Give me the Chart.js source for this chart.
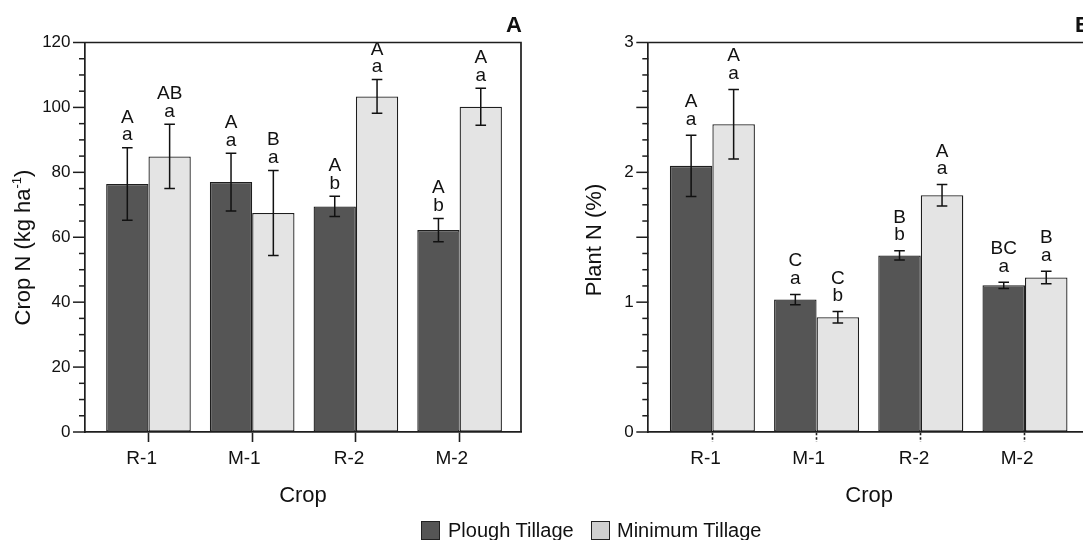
<!DOCTYPE html>
<html><head><meta charset="utf-8">
<script src="https://cdn.jsdelivr.net/npm/chart.js@4.4.1/dist/chart.umd.min.js"></script>
<style>
html,body{margin:0;padding:0;background:#fff;width:1083px;height:540px;overflow:hidden;position:relative;font-family:'Liberation Sans',Arial,sans-serif;}
canvas{position:absolute;top:0;}
#cA{left:0;} #cB{left:540px;}
.lg{position:absolute;top:520.5px;height:19px;width:19px;box-sizing:border-box;border:1.5px solid #222;}
.lt{position:absolute;top:520px;font-size:20px;line-height:20px;color:#111;white-space:nowrap;}
</style></head><body>
<canvas id="cA" width="540" height="540"></canvas>
<canvas id="cB" width="560" height="540"></canvas>
<div id="legend"></div>
<script>
// ---------- data ----------
const crops = ['R-1', 'M-1', 'R-2', 'M-2'];
const seriesNames = ['Plough Tillage', 'Minimum Tillage'];

const cropN_plough     = [76.4, 77.0, 69.5, 62.2];
const cropN_plough_err = [11.2, 8.9, 3.1, 3.6];
const cropN_min        = [84.9, 67.5, 103.4, 100.2];
const cropN_min_err    = [9.9, 13.1, 5.2, 5.7];
const cropN_plough_letters = [['A','a'], ['A','a'], ['A','b'], ['A','b']];
const cropN_min_letters    = [['AB','a'], ['B','a'], ['A','a'], ['A','a']];
const cropN_tickLabels = [0, 20, 40, 60, 80, 100, 120];

const plantN_plough     = [2.05, 1.02, 1.36, 1.13];
const plantN_plough_err = [0.236, 0.040, 0.036, 0.024];
const plantN_min        = [2.37, 0.884, 1.823, 1.19];
const plantN_min_err    = [0.268, 0.044, 0.083, 0.048];
const plantN_plough_letters = [['A','a'], ['C','a'], ['B','b'], ['BC','a']];
const plantN_min_letters    = [['A','a'], ['C','b'], ['A','a'], ['B','a']];
const plantN_tickLabels = [0, 1, 2, 3];

const xTitle = 'Crop';
const yTitleA = [['Crop N (kg ha', 0], ['-1', 1], [')', 0]];
const yTitleB = [['Plant N (%)', 0]];
const panelA = 'A', panelB = 'B';

// ---------- styling ----------
const FONT = "'Liberation Sans', Arial, sans-serif";
Chart.defaults.font.family = FONT;
const INK = '#1e1e1e';
const fills = ['#555555', '#e4e4e4'];
const legendFills = ['#555555', '#d0d0d0'];

// legend (HTML text)
(function(){
  const lg = document.getElementById('legend');
  const boxL = [420.5, 590.5], txtL = [448, 617];
  seriesNames.forEach((n, i) => {
    const b = document.createElement('div'); b.className = 'lg';
    b.style.left = boxL[i] + 'px'; b.style.background = legendFills[i];
    const t = document.createElement('div'); t.className = 'lt';
    t.style.left = txtL[i] + 'px'; t.textContent = n;
    lg.appendChild(b); lg.appendChild(t);
  });
})();

const decorPlugin = {
  id: 'decor',
  afterDraw(chart) {
    const o = chart.options.plugins.decor;
    const {ctx, chartArea: a} = chart;
    const ys = chart.scales.y;
    ctx.save();
    // frame top & right
    ctx.strokeStyle = INK; ctx.lineWidth = 1.7;
    ctx.beginPath(); ctx.moveTo(a.left, a.top); ctx.lineTo(a.right, a.top); ctx.lineTo(a.right, a.bottom); ctx.stroke();
    // y ticks (major / minor)
    ctx.lineWidth = 1.5;
    ys.ticks.forEach(t => {
      const y = ys.getPixelForValue(t.value);
      const r = t.value / o.longStep;
      const len = Math.abs(r - Math.round(r)) < 1e-9 ? 12 : 6;
      ctx.beginPath(); ctx.moveTo(a.left - len, y); ctx.lineTo(a.left, y); ctx.stroke();
    });
    // panel letter
    ctx.fillStyle = '#111';
    ctx.font = 'bold 22px ' + FONT; ctx.textAlign = 'right'; ctx.textBaseline = 'alphabetic';
    ctx.fillText(o.panel, a.right + 1, 32);
    // y title (rotated, with superscript support)
    ctx.translate(o.titleX, o.titleY); ctx.rotate(-Math.PI / 2);
    const parts = o.yTitle.map(([t, sup]) => {
      ctx.font = (sup ? 13 : 22) + 'px ' + FONT;
      return {t, sup, w: ctx.measureText(t).width};
    });
    const W = parts.reduce((s, p) => s + p.w, 0);
    let x = -W / 2;
    ctx.textAlign = 'left';
    parts.forEach(p => {
      ctx.font = (p.sup ? 13 : 22) + 'px ' + FONT;
      ctx.fillText(p.t, x, p.sup ? -9 : 0);
      x += p.w;
    });
    ctx.restore();
  }
};

const errPlugin = {
  id: 'errbars',
  afterDatasetsDraw(chart) {
    const o = chart.options.plugins.errbars;
    const ctx = chart.ctx, ys = chart.scales.y;
    chart.data.datasets.forEach((ds, di) => {
      const meta = chart.getDatasetMeta(di);
      meta.data.forEach((bar, i) => {
        const v = ds.data[i].y, e = ds.errs[i];
        const yT = ys.getPixelForValue(v + e), yB = ys.getPixelForValue(v - e);
        ctx.save();
        ctx.strokeStyle = '#111'; ctx.lineWidth = 1.5;
        ctx.beginPath();
        ctx.moveTo(bar.x, yT); ctx.lineTo(bar.x, yB);
        ctx.moveTo(bar.x - 5.3, yT); ctx.lineTo(bar.x + 5.3, yT);
        ctx.moveTo(bar.x - 5.3, yB); ctx.lineTo(bar.x + 5.3, yB);
        ctx.stroke();
        ctx.fillStyle = '#111'; ctx.font = '19px ' + FONT;
        ctx.textAlign = 'center'; ctx.textBaseline = 'alphabetic';
        const lines = ds.letters[i];
        let base = yT - o.gap;
        for (let k = lines.length - 1; k >= 0; k--) { ctx.fillText(lines[k], bar.x, base); base -= o.lineGap; }
        ctx.restore();
      });
    });
  }
};

function makeChart(id, c) {
  const mk = (vals, errs, letters, k) => ({
    label: seriesNames[k],
    data: crops.map((_, i) => ({x: i + 1, y: vals[i]})),
    errs, letters,
    backgroundColor: fills[k], borderColor: INK, borderWidth: 1.3, borderSkipped: false,
    categoryPercentage: 0.816, barPercentage: 1
  });
  return new Chart(document.getElementById(id), {
    type: 'bar',
    data: {datasets: [mk(c.pt, c.ptErr, c.ptLet, 0), mk(c.mt, c.mtErr, c.mtLet, 1)]},
    options: {
      responsive: false, animation: false, devicePixelRatio: 1,
      layout: {padding: {left: 0, top: 42.5, right: c.padRight, bottom: 0}},
      plugins: {
        legend: {display: false}, tooltip: {enabled: false},
        decor: {longStep: c.longStep, panel: c.panel, yTitle: c.yTitle, titleX: c.titleX, titleY: c.titleY},
        errbars: {gap: c.gap, lineGap: c.lineGap}
      },
      scales: {
        x: {
          type: 'linear', min: c.xmin, max: c.xmax, offset: false,
          afterBuildTicks: s => { s.ticks = crops.map((_, i) => ({value: i + 1})); },
          afterFit: s => { s.height = 108; },
          ticks: {autoSkip: false, maxRotation: 0, callback: v => crops[v - 1] || '',
                  font: {size: 19}, color: '#111', padding: 5.5, align: 'end', labelOffset: 8.5},
          grid: {offset: false, drawOnChartArea: false, drawTicks: true, tickLength: 10, tickColor: INK, tickWidth: 1.6,
                 tickBorderDash: c.tickDash},
          border: {display: true, color: INK, width: 1.7},
          title: {display: true, text: xTitle, font: {size: 22}, color: '#111', padding: {top: 0, bottom: 30.8}}
        },
        y: {
          min: 0, max: c.ymax,
          afterFit: s => { s.width = c.yW; },
          afterBuildTicks: s => {
            const t = []; const n = Math.round(c.ymax / c.minor);
            for (let i = 0; i <= n; i++) t.push({value: i * c.minor});
            s.ticks = t;
          },
          ticks: {autoSkip: false, callback: v => c.labels.includes(v) ? String(v) : '',
                  font: {size: 17}, color: '#111', padding: 2.5},
          grid: {drawOnChartArea: false, drawTicks: true, tickLength: 12, tickColor: 'rgba(0,0,0,0)'},
          border: {display: true, color: INK, width: 1.7}
        }
      }
    },
    plugins: [errPlugin, decorPlugin]
  });
}

makeChart('cA', {
  pt: cropN_plough, ptErr: cropN_plough_err, ptLet: cropN_plough_letters,
  mt: cropN_min, mtErr: cropN_min_err, mtLet: cropN_min_letters,
  ymax: 120, minor: 5, longStep: 20, labels: cropN_tickLabels,
  xmin: 0.388, xmax: 4.592, yW: 85, padRight: 19,
  panel: panelA, yTitle: yTitleA, titleX: 29.5, titleY: 247.5,
  gap: 7.5, lineGap: 17.5, tickDash: []
});
makeChart('cB', {
  pt: plantN_plough, ptErr: plantN_plough_err, ptLet: plantN_plough_letters,
  mt: plantN_min, mtErr: plantN_min_err, mtLet: plantN_min_letters,
  ymax: 3, minor: 0.125, longStep: 0.5, labels: plantN_tickLabels,
  xmin: 0.385, xmax: 4.624, yW: 108.3, padRight: 10,
  panel: panelB, yTitle: yTitleB, titleX: 61, titleY: 240,
  gap: 10.5, lineGap: 17.5, tickDash: [2.5, 2]
});
</script>
</body></html>
